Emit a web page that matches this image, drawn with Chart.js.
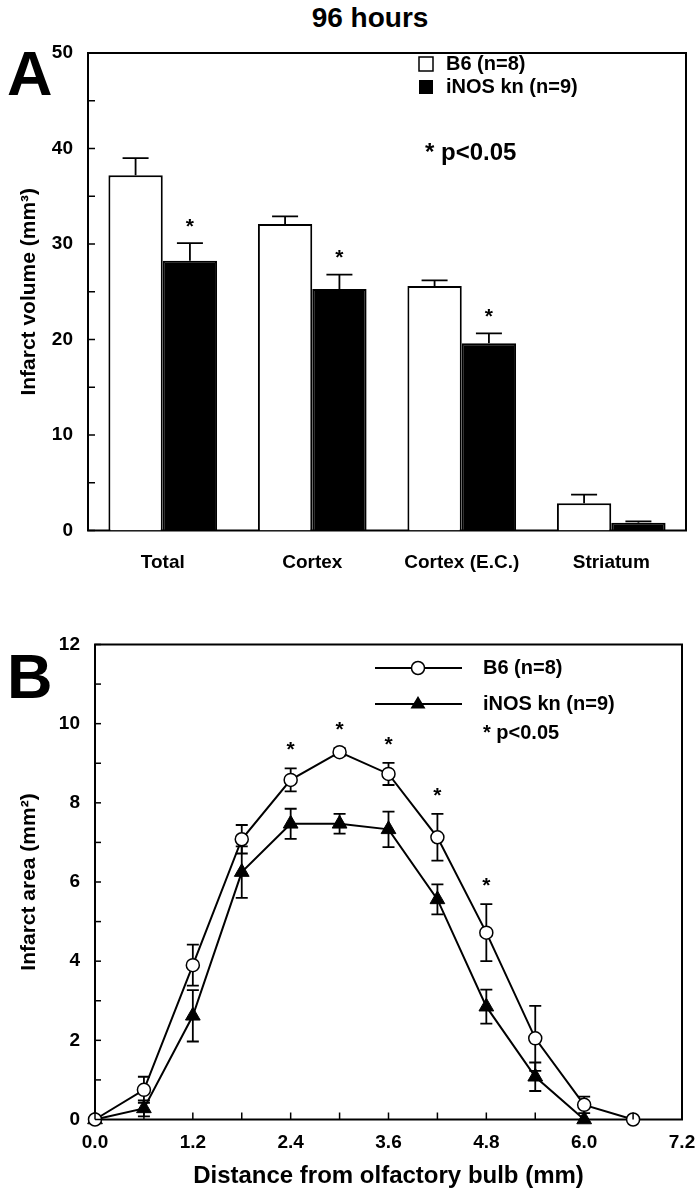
<!DOCTYPE html>
<html>
<head>
<meta charset="utf-8">
<script src="https://cdn.jsdelivr.net/npm/chart.js@4"></script>
<style>
body { margin: 0; background: #fff; width: 700px; height: 1199px; position: relative; overflow: hidden; font-family: 'Liberation Sans', Arial, sans-serif; }
.lbl { position: absolute; font-weight: bold; line-height: 1; color: #000; white-space: nowrap; }
#boxA { position: absolute; left: 0; top: 0; width: 700px; height: 600px; }
#boxB { position: absolute; left: 0; top: 600px; width: 700px; height: 599px; }
</style>
</head>
<body>
<div class="lbl" style="left:0; width:740px; text-align:center; top:4px; font-size:28px;">96 hours</div>
<div class="lbl" style="left:7px; top:42px; font-size:63px;">A</div>
<div class="lbl" style="left:7px; top:645px; font-size:63px;">B</div>
<div id="boxA"><canvas id="chartA" width="700" height="600"></canvas></div>
<div id="boxB"><canvas id="chartB" width="700" height="599"></canvas></div>
<script>
// panel A - infarct volume
const categories = ['Total', 'Cortex', 'Cortex (E.C.)', 'Striatum'];
const b6Volume = [37.2, 32.1, 25.6, 2.85];
const b6VolumeErr = [1.8, 0.8, 0.6, 0.9];
const inosVolume = [28.25, 25.3, 19.6, 0.82];
const inosVolumeErr = [1.85, 1.5, 1.05, 0.14];
const inosVolumeSig = [true, true, true, false];
const volumeTicks = [0, 5, 10, 15, 20, 25, 30, 35, 40, 45, 50];

// panel B - infarct area along the brain
const distance = [0.0, 0.6, 1.2, 1.8, 2.4, 3.0, 3.6, 4.2, 4.8, 5.4, 6.0, 6.6];
const b6Area = [0, 0.75, 3.9, 7.08, 8.58, 9.28, 8.73, 7.13, 4.72, 2.05, 0.37, 0];
const b6AreaErr = [0, 0.33, 0.52, 0.36, 0.29, 0.1, 0.28, 0.59, 0.72, 0.82, 0.21, 0];
const b6AreaSig = [false, false, false, false, true, true, true, true, true, false, false, false];
const inosArea = [0, 0.28, 2.62, 6.25, 7.47, 7.47, 7.33, 5.56, 2.85, 1.08, 0];
const inosAreaErr = [0, 0.2, 0.65, 0.65, 0.38, 0.25, 0.45, 0.38, 0.43, 0.36, 0];
const distanceTicks = [0.0, 0.6, 1.2, 1.8, 2.4, 3.0, 3.6, 4.2, 4.8, 5.4, 6.0, 6.6, 7.2];
const areaTicks = [0, 1, 2, 3, 4, 5, 6, 7, 8, 9, 10, 11, 12];

const FONT = "'Liberation Sans', Arial, sans-serif";
Chart.defaults.font.family = FONT;
Chart.defaults.font.weight = 'bold';
Chart.defaults.color = '#000';
Chart.defaults.animation = false;

// box round the plot area
const framePlugin = {
    id: 'frame',
    beforeDatasetsDraw(chart) {
        const a = chart.chartArea, ctx = chart.ctx;
        ctx.save();
        ctx.strokeStyle = '#000';
        ctx.lineWidth = 2;
        ctx.strokeRect(a.left, a.top, a.right - a.left, a.bottom - a.top);
        ctx.restore();
    }
};

// tick marks pointing into the plot
const inTicksPlugin = {
    id: 'inTicks',
    afterDraw(chart) {
        const ctx = chart.ctx, a = chart.chartArea;
        ctx.save();
        ctx.strokeStyle = '#000';
        ctx.lineWidth = 1.5;
        ['x', 'y'].forEach(id => {
            const s = chart.scales[id];
            const len = s.options.inTick;
            if (!len) return;
            s.ticks.forEach(t => {
                const p = s.getPixelForValue(t.value);
                ctx.beginPath();
                if (id === 'y') { ctx.moveTo(a.left, p); ctx.lineTo(a.left + len, p); }
                else { ctx.moveTo(p, a.bottom); ctx.lineTo(p, a.bottom - len); }
                ctx.stroke();
            });
        });
        ctx.restore();
    }
};

// error bars and significance stars
function drawErrors(chart, upOnly, capW, starGap) {
    const ctx = chart.ctx, ys = chart.scales.y;
    ctx.save();
    ctx.strokeStyle = '#000';
    ctx.fillStyle = '#000';
    ctx.lineWidth = 1.8;
    chart.data.datasets.forEach((ds, i) => {
        const meta = chart.getDatasetMeta(i);
        meta.data.forEach((el, j) => {
            const v = ds.data[j].y !== undefined ? ds.data[j].y : ds.data[j];
            const e = ds.errors[j];
            const top = ys.getPixelForValue(v + e);
            if (e > 0) {
                const bot = upOnly ? el.y : ys.getPixelForValue(v - e);
                ctx.beginPath();
                ctx.moveTo(el.x, top); ctx.lineTo(el.x, bot);
                ctx.moveTo(el.x - capW / 2, top); ctx.lineTo(el.x + capW / 2, top);
                if (!upOnly) { ctx.moveTo(el.x - capW / 2, bot); ctx.lineTo(el.x + capW / 2, bot); }
                ctx.stroke();
            }
            if (ds.sig && ds.sig[j]) {
                ctx.font = 'bold 21px ' + FONT;
                ctx.textAlign = 'center';
                ctx.textBaseline = 'middle';
                ctx.fillText('*', el.x, top - starGap);
            }
        });
    });
    ctx.restore();
}

const chartA = new Chart(document.getElementById('chartA'), {
    type: 'bar',
    data: {
        labels: categories,
        datasets: [{
            label: 'B6 (n=8)',
            data: b6Volume,
            errors: b6VolumeErr,
            backgroundColor: '#fff',
            borderColor: '#000',
            borderWidth: 2
        }, {
            label: 'iNOS kn (n=9)',
            data: inosVolume,
            errors: inosVolumeErr,
            sig: inosVolumeSig,
            backgroundColor: '#000',
            borderColor: '#000',
            borderWidth: 2
        }]
    },
    options: {
        responsive: false,
        categoryPercentage: 0.727,
        barPercentage: 1,
        layout: { padding: { top: 53, right: 14, left: 0, bottom: 0 } },
        plugins: { legend: { display: false }, tooltip: { enabled: false } },
        scales: {
            x: {
                grid: { display: false },
                border: { display: false },
                ticks: { font: { size: 19 }, padding: 13 },
                afterFit: s => { s.height = 69.5; }
            },
            y: {
                min: 0, max: 50,
                inTick: 7,
                afterBuildTicks: s => { s.ticks = volumeTicks.map(v => ({ value: v })); },
                grid: { display: false },
                border: { display: false },
                ticks: { font: { size: 19 }, padding: 7, callback: v => (v % 10 === 0 ? v : '') },
                title: { display: true, text: 'Infarct volume (mm³)', font: { size: 21 }, padding: { top: 17, bottom: 0 } },
                afterFit: s => { s.width = 88; }
            }
        }
    },
    plugins: [framePlugin, inTicksPlugin, {
        id: 'errA',
        afterDatasetsDraw(chart) { drawErrors(chart, true, 26, 16); },
        afterDraw(chart) {
            const ctx = chart.ctx;
            ctx.save();
            ctx.font = 'bold 20px ' + FONT;
            ctx.textBaseline = 'middle';
            ctx.textAlign = 'left';
            ctx.lineWidth = 1.5;
            ctx.strokeStyle = '#000';
            ctx.fillStyle = '#fff';
            ctx.fillRect(419, 57, 14, 14);
            ctx.strokeRect(419, 57, 14, 14);
            ctx.fillStyle = '#000';
            ctx.fillRect(419, 80, 14, 14);
            ctx.fillText(chart.data.datasets[0].label, 446, 64);
            ctx.fillText(chart.data.datasets[1].label, 446, 87);
            ctx.font = 'bold 24px ' + FONT;
            ctx.fillText('* p<0.05', 425, 153);
            ctx.restore();
        }
    }]
});

const chartB = new Chart(document.getElementById('chartB'), {
    type: 'line',
    data: {
        datasets: [{
            label: 'B6 (n=8)',
            data: distance.map((d, i) => ({ x: d, y: b6Area[i] })),
            errors: b6AreaErr,
            sig: b6AreaSig,
            borderColor: '#000',
            borderWidth: 2,
            pointStyle: 'circle',
            pointRadius: 6.5,
            pointBorderWidth: 1.5,
            pointBackgroundColor: '#fff',
            pointBorderColor: '#000',
            tension: 0,
            clip: false
        }, {
            label: 'iNOS kn (n=9)',
            data: inosArea.map((v, i) => ({ x: distance[i], y: v })),
            errors: inosAreaErr,
            borderColor: '#000',
            borderWidth: 2,
            pointStyle: 'triangle',
            pointRadius: 8.5,
            pointBorderWidth: 1,
            pointBackgroundColor: '#000',
            pointBorderColor: '#000',
            tension: 0,
            clip: false
        }]
    },
    options: {
        responsive: false,
        layout: { padding: { top: 44.5, right: 18, left: 0, bottom: 0 } },
        plugins: { legend: { display: false }, tooltip: { enabled: false } },
        scales: {
            x: {
                type: 'linear',
                min: 0, max: 7.2,
                inTick: 7,
                afterBuildTicks: s => { s.ticks = distanceTicks.map(v => ({ value: v })); },
                grid: { display: false },
                border: { display: false },
                ticks: { font: { size: 19 }, padding: 4, autoSkip: false, maxRotation: 0,
                         callback: (v, i) => (i % 2 === 0 ? v.toFixed(1) : '') },
                title: { display: true, text: 'Distance from olfactory bulb (mm)', font: { size: 24 }, padding: { top: 0, bottom: 8 } },
                afterFit: s => { s.height = 79.5; }
            },
            y: {
                min: 0, max: 12,
                inTick: 6,
                afterBuildTicks: s => { s.ticks = areaTicks.map(v => ({ value: v })); },
                grid: { display: false },
                border: { display: false },
                ticks: { font: { size: 19 }, padding: 7, callback: v => (v % 2 === 0 ? v : '') },
                title: { display: true, text: 'Infarct area (mm²)', font: { size: 21 }, padding: { top: 17, bottom: 0 } },
                afterFit: s => { s.width = 95; }
            }
        }
    },
    plugins: [framePlugin, inTicksPlugin, {
        id: 'errB',
        beforeDatasetsDraw(chart) { drawErrors(chart, false, 12, 18); },
        afterDraw(chart) {
            const ctx = chart.ctx;
            ctx.save();
            ctx.strokeStyle = '#000';
            ctx.lineWidth = 2;
            ctx.beginPath();
            ctx.moveTo(375, 68); ctx.lineTo(462, 68);
            ctx.moveTo(375, 104); ctx.lineTo(462, 104);
            ctx.stroke();
            ctx.fillStyle = '#fff';
            ctx.lineWidth = 1.5;
            ctx.beginPath(); ctx.arc(418, 68, 6.5, 0, Math.PI * 2); ctx.fill(); ctx.stroke();
            ctx.fillStyle = '#000';
            ctx.beginPath();
            ctx.moveTo(418, 96); ctx.lineTo(425.5, 108.5); ctx.lineTo(410.5, 108.5); ctx.closePath();
            ctx.fill();
            ctx.font = 'bold 20px ' + FONT;
            ctx.textBaseline = 'middle';
            ctx.textAlign = 'left';
            ctx.fillText(chart.data.datasets[0].label, 483, 68);
            ctx.fillText(chart.data.datasets[1].label, 483, 104);
            ctx.fillText('* p<0.05', 483, 133);
            ctx.restore();
        }
    }]
});
</script>
</body>
</html>
